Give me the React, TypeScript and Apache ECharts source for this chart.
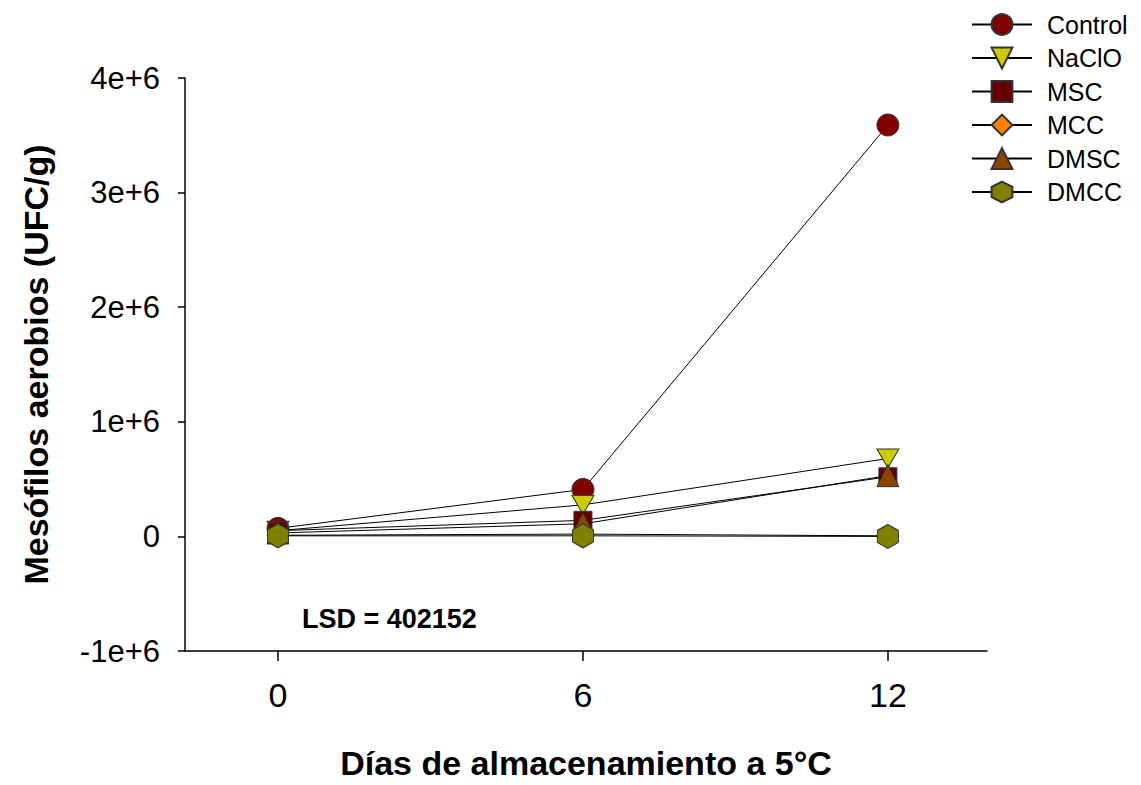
import React, { useEffect, useRef } from "react";
import * as echarts from "echarts";

const days = [0, 6, 12];
const seriesNames = ["Control", "NaClO", "MSC", "MCC", "DMSC", "DMCC"];
const controlVals = [70000, 410000, 3590000];
const naclioVals = [50000, 275000, 680000];
const mscVals = [50000, 140000, 520000];
const mccVals = [10000, 20000, 5000];
const dmscVals = [30000, 110000, 530000];
const dmccVals = [5000, 5000, 0];
const yTicks = [-1000000, 0, 1000000, 2000000, 3000000, 4000000];
const xTickLabels = [0, 6, 12];

const colors = ["#800000", "#CCCC00", "#660000", "#FF8000", "#8B4500", "#808000"];
const hexPath = "path://M50,0 L93.3,25 L93.3,75 L50,100 L6.7,75 L6.7,25 Z";
const downTri = "path://M0,0 L100,0 L50,87 Z";
const symbols = ["circle", downTri, "rect", "diamond", "triangle", hexPath];
const symbolSizes: any[] = [22, [22, 19], 18, 22, 22, [21, 24]];
const allVals = [controlVals, naclioVals, mscVals, mccVals, dmscVals, dmccVals];

export default function App() {
  const ref = useRef<HTMLDivElement>(null);
  useEffect(() => {
    document.body.style.margin = "0";
    const chart = echarts.init(ref.current!, undefined, { renderer: "svg" });
    const font = '"Liberation Sans", Arial, sans-serif';
    chart.setOption({
      animation: false,
      backgroundColor: "#ffffff",
      grid: { left: 185, right: 154, top: 78, bottom: 128 },
      legend: {
        orient: "vertical",
        left: 966,
        top: 7,
        itemWidth: 60,
        itemHeight: 26,
        itemGap: 8.5,
        data: seriesNames,
        textStyle: { fontFamily: font, fontSize: 25, color: "#000", padding: [0, 0, 0, 10] },
      },
      xAxis: {
        type: "value",
        min: -1.83,
        max: 13.95,
        splitLine: { show: false },
        axisLine: { onZero: false, lineStyle: { color: "#000", width: 1.5 } },
        axisTick: { customValues: xTickLabels, length: 10, lineStyle: { color: "#000", width: 1.5 } },
        axisLabel: {
          customValues: xTickLabels,
          margin: 27,
          fontFamily: font,
          fontSize: 34,
          color: "#000",
        },
        name: "Días de almacenamiento a 5°C",
        nameLocation: "middle",
        nameGap: 95,
        nameTextStyle: { fontFamily: font, fontSize: 34, fontWeight: "bold", color: "#000" },
      },
      yAxis: {
        type: "value",
        min: yTicks[0],
        max: yTicks[yTicks.length - 1],
        interval: 1000000,
        splitLine: { show: false },
        axisLine: { show: true, onZero: false, lineStyle: { color: "#000", width: 1.5 } },
        axisTick: { show: true, length: 7, lineStyle: { color: "#000", width: 1.5 } },
        axisLabel: {
          margin: 25,
          fontFamily: font,
          fontSize: 31,
          color: "#000",
          formatter: (v: number) => (v === 0 ? "0" : v / 1000000 + "e+6"),
        },
        name: "Mesófilos aerobios (UFC/g)",
        nameLocation: "middle",
        nameRotate: 90,
        nameGap: 132,
        nameTextStyle: { fontFamily: font, fontSize: 34, fontWeight: "bold", color: "#000" },
      },
      graphic: [
        {
          type: "text",
          x: 302,
          y: 619,
          style: {
            text: "LSD = 402152",
            font: 'bold 27px "Liberation Sans", Arial, sans-serif',
            fill: "#000",
            verticalAlign: "middle",
          },
        },
      ],
      series: seriesNames.map((name, i) => ({
        name,
        type: "line",
        data: days.map((d, j) => [d, allVals[i][j]]),
        symbol: symbols[i],
        symbolSize: symbolSizes[i],
        lineStyle: { color: "#000", width: 1 },
        itemStyle: { color: colors[i], borderColor: "#333", borderWidth: 1 },
        z: 2 + i,
      })),
    });
    return () => chart.dispose();
  }, []);
  return <div ref={ref} style={{ width: 1141, height: 785 }} />;
}
